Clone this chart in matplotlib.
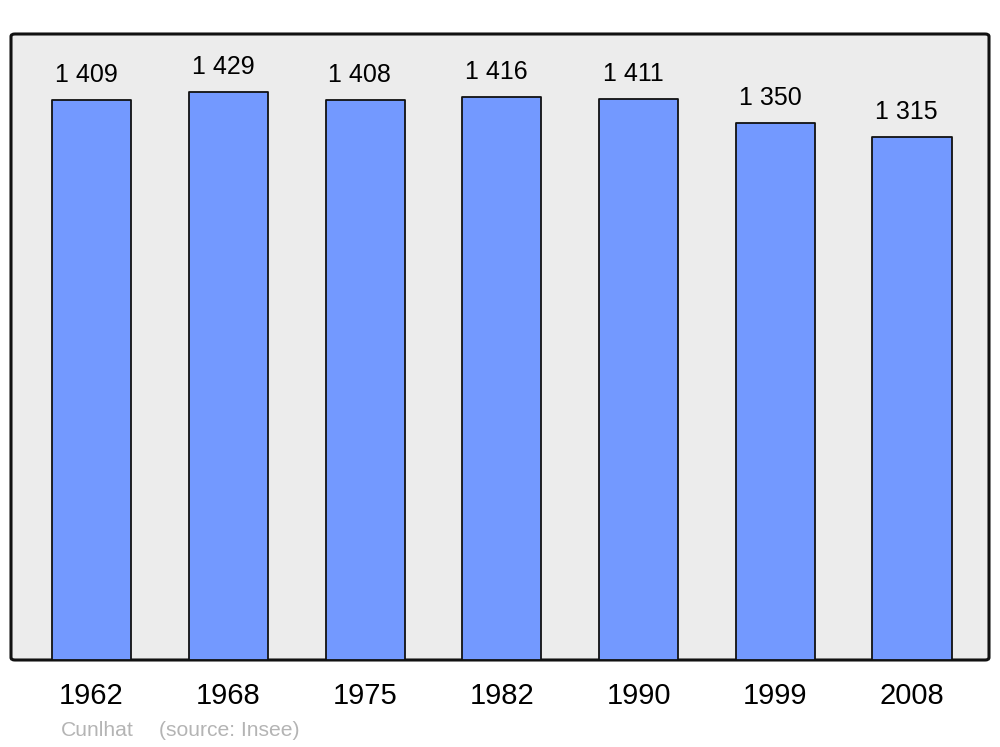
import matplotlib
matplotlib.use("Agg")
import matplotlib.pyplot as plt
from matplotlib.patches import FancyBboxPatch

years = ["1962", "1968", "1975", "1982", "1990", "1999", "2008"]
population = [1409, 1429, 1408, 1416, 1411, 1350, 1315]
value_labels = ["1 409", "1 429", "1 408", "1 416", "1 411", "1 350", "1 315"]

plt.rcParams["font.family"] = ["Liberation Sans", "DejaVu Sans"]

fig = plt.figure(figsize=(10, 7.47), dpi=100)
ax = fig.add_axes([0.011, 1 - 660 / 747, 0.978, 626 / 747])
ax.set_facecolor("none")

# rounded frame + grey background
frame = FancyBboxPatch((0, 0), 1, 1, boxstyle="round,pad=0,rounding_size=0.004",
                       transform=ax.transAxes, facecolor="#ececec",
                       edgecolor="#111111", linewidth=2.2, zorder=0, clip_on=False)
ax.add_patch(frame)
for s in ax.spines.values():
    s.set_visible(False)

x = list(range(len(years)))
bars = ax.bar(x, population, width=0.578, color="#7399ff", edgecolor="#111111",
              linewidth=1.3, zorder=2)
for b in bars:
    b.set_joinstyle("round")

for b, lab in zip(bars, value_labels):
    ax.annotate(lab, (b.get_x() + b.get_width() / 2, b.get_height()),
                xytext=(-3.8, 13), textcoords="offset points",
                ha="center", va="baseline", fontsize=18, color="black")

ax.set_xlim(-0.589, 6.563)
ax.set_ylim(0, 1575)
ax.set_xticks(x)
ax.set_xticklabels(years, fontsize=21)
ax.tick_params(axis="x", length=0, pad=16)
ax.set_yticks([])

fig.text(0.061, 1 - 731 / 747, "Cunlhat", fontsize=15.2, color="#b4b4b4", va="center")
fig.text(0.159, 1 - 731 / 747, "(source: Insee)", fontsize=15.2, color="#b4b4b4", va="center")

fig.savefig("out.png", dpi=100, facecolor="white")
